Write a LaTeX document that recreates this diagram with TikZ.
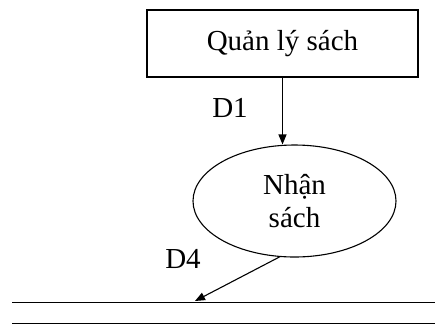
\documentclass[tikz,border=0pt]{standalone}
\usepackage{fontspec}
\setmainfont{Liberation Serif}
\usetikzlibrary{shapes.geometric,arrows.meta}

\begin{document}
\begin{tikzpicture}[x=1pt,y=-1pt,line width=1.1pt,
	font=\fontsize{29}{33}\selectfont,
	flow/.style={-{Triangle[length=10pt,width=8pt]}}]
	\useasboundingbox (0,0) rectangle (435,325);

	\node[draw,rectangle,minimum width=271pt,minimum height=67pt] (ql) at (282.5,43.5) {Quản lý sách};
	\node[draw,ellipse,inner sep=0pt,minimum width=203pt,minimum height=112pt,align=center] (nhan) at (294.5,201) {Nhận\\sách};

	% kho luu tru
	\coordinate (k1) at (12,302.5);
	\coordinate (k2) at (435,302.5);
	\coordinate (k3) at (12,323.5);
	\coordinate (k4) at (435,323.5);
	\coordinate (kho) at (195,301);
	\draw (k1) -- (k2);
	\draw (k3) -- (k4);

	\draw [flow] (ql.south) -- (ql.south |- nhan.north);
	\draw [flow] (nhan.255) -- (kho);
	\node (d1) at (230,108) {D1};
	\node (d4) at (183,259) {D4};

\end{tikzpicture}
\end{document}
